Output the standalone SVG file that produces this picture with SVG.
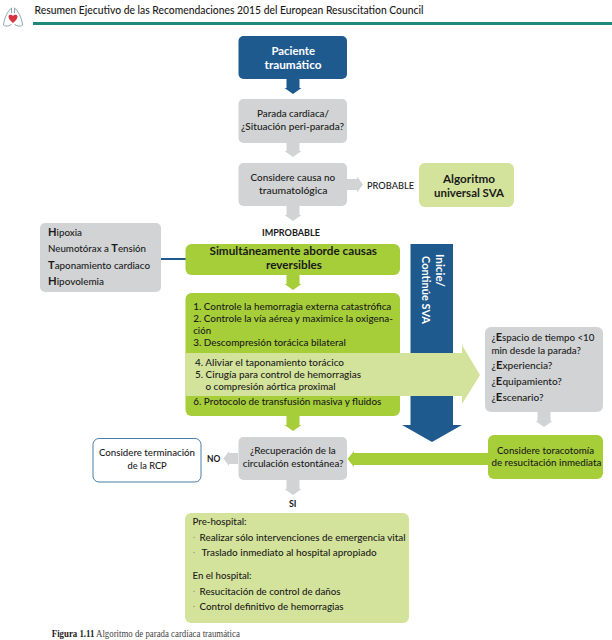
<svg xmlns="http://www.w3.org/2000/svg" width="612" height="640" viewBox="0 0 612 640">
<style>
text{font-family:Lato,"Open Sans","Liberation Sans",sans-serif;font-size:10.2px;fill:#1a1a1a;font-weight:500}
.b{font-weight:700}
.s{font-weight:500}
.w{fill:#fff;font-weight:700;font-size:11.5px}
.l{font-size:11.5px;font-weight:700}
.h{font-weight:700;font-size:11.5px}
.dot{fill:#9aa57a}
.blue{fill:#1f5a8f}.grey{fill:#d1d3d4}.green{fill:#a6ce39}.light{fill:#d4e39b}
</style>
<rect width="612" height="640" fill="#fff"/>
<g id="header">
<path d="M11.500 8C8.500 10 4 18 3.500 25C6 27 10 26 11.500 24M14.500 8C17.500 10 22 18 22.500 25C20 27 16 26 14.500 24M11.500 8V13M14.500 8V13" fill="none" stroke="#5f7f85" stroke-width="0.700"/>
<path d="M13 23C10.200 20.500 8.500 18.700 8.500 16.500C8.500 14.600 11.700 14 13 16C14.300 14 17.500 14.600 17.500 16.500C17.500 18.700 15.800 20.500 13 23Z" fill="#d8343f"/>
<text x="34.500" y="14" textLength="389" lengthAdjust="spacingAndGlyphs" style="font-size:10.500px">Resumen Ejecutivo de las Recomendaciones 2015 del European Resuscitation Council</text>
<rect x="33" y="22" width="579" height="3" fill="#1f8a7c"/>
</g>
<g id="connectors">
<polygon class="blue" points="286.500,79 299.500,79 299.500,88 301.500,88 293,94 284.500,88 286.500,88"/>
<polygon class="grey" points="286.500,143 299.500,143 299.500,151 301.500,151 293,157 284.500,151 286.500,151"/>
<polygon class="grey" points="286.500,206 299.500,206 299.500,215 301.500,215 293,221 284.500,215 286.500,215"/>
<polygon class="grey" points="347,179 357,179 357,176.500 363,184.500 357,192.500 357,190 347,190"/>
<polygon class="green" points="286.500,275 299.500,275 299.500,284 301.500,284 293,290 284.500,284 286.500,284"/>
<polygon class="green" points="286.500,416 299.500,416 299.500,425 301.500,425 293,431 284.500,425 286.500,425"/>
<polygon class="grey" points="286.500,480 299.500,480 299.500,489 301.500,489 293,495 284.500,489 286.500,489"/>
<polygon class="grey" points="537.500,412 550.500,412 550.500,421 552.500,421 544,427 535.500,421 537.500,421"/>
<polygon class="grey" points="238,453 229,453 229,451 223.500,458.500 229,466 229,464 238,464"/>
<polygon class="green" points="488,453 354,453 354,451 347.500,459 354,467 354,465 488,465"/>
<line x1="161" y1="259" x2="186" y2="259" stroke="#1f5a8f" stroke-width="2"/>
<polygon class="blue" points="410.500,244 453,244 453,425 462,425 432,442 402,425 410.500,425"/>
<text class="w" transform="translate(436,254) rotate(90)" textLength="33" lengthAdjust="spacingAndGlyphs">Inicie/</text>
<text class="w" transform="translate(421.500,256) rotate(90)" textLength="68" lengthAdjust="spacingAndGlyphs">Continúe SVA</text>
<text x="367" y="189" textLength="47" lengthAdjust="spacingAndGlyphs">PROBABLE</text>
<text x="262" y="236" textLength="58" lengthAdjust="spacingAndGlyphs" class="b">IMPROBABLE</text>
<text x="207" y="462" textLength="13.300" lengthAdjust="spacingAndGlyphs" class="b">NO</text>
<text x="289" y="507" textLength="7.500" lengthAdjust="spacingAndGlyphs" class="b">SI</text>
</g>
<g id="n-paciente">
<rect class="blue" x="238.500" y="36" width="108.500" height="43" rx="5"/>
<text class="w" x="271.500" y="55" textLength="43.500" lengthAdjust="spacingAndGlyphs">Paciente</text>
<text class="w" x="264.500" y="68.500" textLength="57" lengthAdjust="spacingAndGlyphs">traumático</text>
</g>
<g id="n-parada">
<rect class="grey" x="238.500" y="99" width="108.500" height="44" rx="5"/>
<text class="s" x="257" y="117" textLength="72" lengthAdjust="spacingAndGlyphs">Parada cardiaca/</text>
<text class="s" x="241" y="129.500" textLength="103" lengthAdjust="spacingAndGlyphs">¿Situación peri-parada?</text>
</g>
<g id="n-causa">
<rect class="grey" x="238.500" y="163" width="108.500" height="43" rx="5"/>
<text class="s" x="250.600" y="181" textLength="84.500" lengthAdjust="spacingAndGlyphs">Considere causa no</text>
<text class="s" x="259" y="193.500" textLength="68.500" lengthAdjust="spacingAndGlyphs">traumatológica</text>
</g>
<g id="n-universal">
<rect class="light" x="419" y="163" width="95" height="44" rx="6"/>
<text class="l" x="443" y="183" textLength="52" lengthAdjust="spacingAndGlyphs">Algoritmo</text>
<text class="l" x="434" y="197" textLength="70" lengthAdjust="spacingAndGlyphs">universal SVA</text>
</g>
<g id="n-causas-lista">
<rect class="grey" x="40" y="223" width="121" height="69" rx="5"/>
<text x="48" y="236" textLength="34" lengthAdjust="spacingAndGlyphs"><tspan class="h">H</tspan>ipoxia</text>
<text x="48" y="252" textLength="98" lengthAdjust="spacingAndGlyphs">Neumotórax a <tspan class="h">T</tspan>ensión</text>
<text x="48" y="269" textLength="102" lengthAdjust="spacingAndGlyphs"><tspan class="h">T</tspan>aponamiento cardiaco</text>
<text x="48" y="285" textLength="56" lengthAdjust="spacingAndGlyphs"><tspan class="h">H</tspan>ipovolemia</text>
</g>
<g id="n-simultaneamente">
<rect class="green" x="185.500" y="244" width="214.500" height="31" rx="6"/>
<text class="l" x="209.500" y="255" textLength="167.500" lengthAdjust="spacingAndGlyphs">Simultáneamente aborde causas</text>
<text class="l" x="266" y="269" textLength="56" lengthAdjust="spacingAndGlyphs">reversibles</text>
</g>
<g id="n-acciones">
<rect class="green" x="185.500" y="293" width="214.500" height="123" rx="6"/>
<text class="s" x="193.300" y="310" textLength="198" lengthAdjust="spacingAndGlyphs">1.  Controle la hemorragia externa catastrófica</text>
<text class="s" x="193.300" y="322" textLength="199.600" lengthAdjust="spacingAndGlyphs">2.  Controle la vía aérea y maximice la oxigena-</text>
<text class="s" x="193.300" y="334" textLength="17.700" lengthAdjust="spacingAndGlyphs">ción</text>
<text class="s" x="193.300" y="346" textLength="152.500" lengthAdjust="spacingAndGlyphs">3.  Descompresión torácica bilateral</text>
<text class="s" x="193.300" y="405" textLength="188" lengthAdjust="spacingAndGlyphs">6.  Protocolo de transfusión masiva y fluidos</text>
</g>
<g id="n-banda">
<polygon class="light" points="185,353 462,353 462,345 480,375 462,404 462,396 185,396"/>
<text class="s" x="195" y="366" textLength="149" lengthAdjust="spacingAndGlyphs">4.  Aliviar el taponamiento torácico</text>
<text class="s" x="195" y="378" textLength="166" lengthAdjust="spacingAndGlyphs">5.  Cirugía para control de hemorragias</text>
<text class="s" x="205.500" y="390" textLength="130" lengthAdjust="spacingAndGlyphs">o compresión aórtica proximal</text>
</g>
<g id="n-preguntas">
<rect class="grey" x="485" y="327" width="118" height="85" rx="6"/>
<text x="491.400" y="341" textLength="103" lengthAdjust="spacingAndGlyphs">¿<tspan class="h">E</tspan>spacio de tiempo &lt;10</text>
<text x="491.400" y="353.500" textLength="89.500" lengthAdjust="spacingAndGlyphs">min desde la parada?</text>
<text x="491.400" y="369" textLength="61" lengthAdjust="spacingAndGlyphs">¿<tspan class="h">E</tspan>xperiencia?</text>
<text x="491.400" y="385" textLength="70.500" lengthAdjust="spacingAndGlyphs">¿<tspan class="h">E</tspan>quipamiento?</text>
<text x="491.400" y="401" textLength="52" lengthAdjust="spacingAndGlyphs">¿<tspan class="h">E</tspan>scenario?</text>
</g>
<g id="n-toracotomia">
<rect class="green" x="488" y="435" width="115" height="44" rx="6"/>
<text class="s" x="497" y="454" textLength="97" lengthAdjust="spacingAndGlyphs">Considere toracotomía</text>
<text class="s" x="491.400" y="466" textLength="110" lengthAdjust="spacingAndGlyphs">de resucitación inmediata</text>
</g>
<g id="n-recuperacion">
<rect class="grey" x="238.500" y="437" width="108.500" height="43" rx="5"/>
<text class="s" x="250" y="454" textLength="85.700" lengthAdjust="spacingAndGlyphs">¿Recuperación de la</text>
<text class="s" x="242.700" y="466.500" textLength="100.800" lengthAdjust="spacingAndGlyphs">circulación estontánea?</text>
</g>
<g id="n-terminacion">
<rect x="93" y="438.500" width="108" height="43.500" rx="6" fill="#fff" stroke="#1f5a8f" stroke-width="0.800"/>
<text class="s" x="99" y="456" textLength="96" lengthAdjust="spacingAndGlyphs">Considere terminación</text>
<text class="s" x="127.500" y="468.500" textLength="39.200" lengthAdjust="spacingAndGlyphs">de la RCP</text>
</g>
<g id="n-hospital">
<rect class="light" x="185" y="513" width="224" height="110" rx="6"/>
<text class="s" x="192.500" y="525" textLength="54" lengthAdjust="spacingAndGlyphs">Pre-hospital:</text>
<circle class="dot" cx="194" cy="537.500" r="0.800"/>
<text class="s" x="199.600" y="541" textLength="206" lengthAdjust="spacingAndGlyphs">Realizar sólo intervenciones de emergencia vital</text>
<circle class="dot" cx="194" cy="552.500" r="0.800"/>
<text class="s" x="201.600" y="556" textLength="175" lengthAdjust="spacingAndGlyphs">Traslado inmediato al hospital apropiado</text>
<text class="s" x="192.500" y="579" textLength="59" lengthAdjust="spacingAndGlyphs">En el hospital:</text>
<circle class="dot" cx="194" cy="591.500" r="0.800"/>
<text class="s" x="199.600" y="595" textLength="141" lengthAdjust="spacingAndGlyphs">Resucitación de control de daños</text>
<circle class="dot" cx="194" cy="606.500" r="0.800"/>
<text class="s" x="199.600" y="610" textLength="144" lengthAdjust="spacingAndGlyphs">Control definitivo de hemorragias</text>
</g>
<g id="caption">
<text x="51.800" y="637" textLength="188" lengthAdjust="spacingAndGlyphs" style="font-family:'Liberation Serif',serif;font-size:9.500px;font-weight:400;fill:#444"><tspan font-weight="700" fill="#222">Figura 1.11</tspan> Algoritmo de parada cardiaca traumática</text>
</g>
</svg>
